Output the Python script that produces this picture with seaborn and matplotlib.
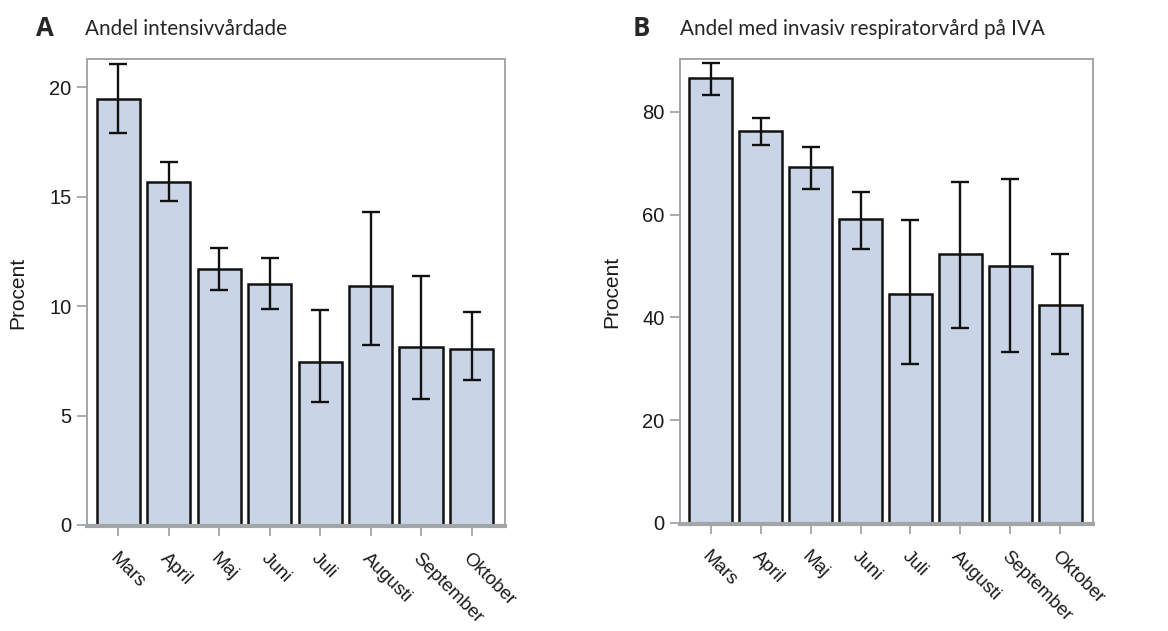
import numpy as np
import pandas as pd
import matplotlib
matplotlib.use("Agg")
import matplotlib.pyplot as plt
import seaborn as sns

months = ["Mars", "April", "Maj", "Juni", "Juli", "Augusti", "September", "Oktober"]

a_vals = [19.47, 15.68, 11.69, 11.02, 7.45, 10.90, 8.14, 8.06]
a_low = [17.91, 14.81, 10.73, 9.89, 5.61, 8.22, 5.76, 6.64]
a_high = [21.08, 16.58, 12.67, 12.22, 9.82, 14.31, 11.40, 9.74]

b_vals = [86.6, 76.2, 69.3, 59.1, 44.6, 52.3, 50.1, 42.4]
b_low = [83.2, 73.5, 65.0, 53.4, 30.9, 37.9, 33.2, 32.9]
b_high = [89.5, 78.8, 73.2, 64.4, 58.9, 66.3, 66.9, 52.3]

sns.set_theme(style="white")
fam = ["Liberation Sans", "DejaVu Sans"]
plt.rcParams["font.family"] = fam

W, H = 1168, 631
fig = plt.figure(figsize=(W / 100, H / 100), dpi=100)

def ax_rect(l, r, t, b):
    return [l / W, 1 - b / H, (r - l) / W, (b - t) / H]

ax1 = fig.add_axes(ax_rect(87, 505, 59, 526))
ax2 = fig.add_axes(ax_rect(680, 1093, 59, 524))

bar_col = "#c9d5e6"
frame_col = "#a3a6a9"
txt_col = "#1a1a1a"

def draw(ax, vals, low, high, ylim, yticks, letter, title, lx, tx):
    df = pd.DataFrame({"month": months, "value": vals})
    sns.barplot(data=df, x="month", y="value", order=months, color=bar_col,
                saturation=1, edgecolor="#111111", linewidth=1.8, width=0.86,
                errorbar=None, ax=ax)
    xs = np.arange(len(months))
    v = np.array(vals)
    yerr = [v - np.array(low), np.array(high) - v]
    ax.errorbar(xs, v, yerr=yerr, fmt="none", ecolor="#111111", elinewidth=1.7,
                capsize=6.2, capthick=1.7, zorder=5)
    ax.set_xlim(-0.62, 7.66)
    ax.set_ylim(*ylim)
    ax.set_yticks(yticks)
    ax.set_yticklabels([str(t) for t in yticks], fontsize=14.5, color=txt_col,
                       family=fam)
    ax.set_xticks(xs)
    ax.set_xticklabels(months, rotation=-45, ha="left", va="top",
                       rotation_mode="anchor", fontsize=13.5, color=txt_col,
                       family=fam)
    ax.set_xlabel("")
    ax.set_ylabel("Procent", fontsize=15, color=txt_col, family=fam)
    ax.yaxis.set_label_coords(-0.143, 0.5)
    for s in ["top", "right", "left"]:
        ax.spines[s].set_color(frame_col)
        ax.spines[s].set_linewidth(1.4)
    ax.spines["bottom"].set_color(frame_col)
    ax.spines["bottom"].set_linewidth(3)
    ax.tick_params(axis="both", which="major", direction="out", length=7,
                   width=1.3, color=frame_col, bottom=True, left=True)
    ax.tick_params(axis="x", pad=10)
    ax.tick_params(axis="y", pad=4)
    fig.text(lx / W, 1 - 28 / H, letter, fontsize=18.5, fontweight="bold",
             family=["Open Sans", "DejaVu Sans"], va="center", ha="left")
    fig.text(tx / W, 1 - 29 / H, title, fontsize=14.9,
             family=["Lato", "DejaVu Sans"], va="center", ha="left")

draw(ax1, a_vals, a_low, a_high, (-0.05, 21.3), [0, 5, 10, 15, 20],
     "A", "Andel intensivvårdade", 36, 85)
draw(ax2, b_vals, b_low, b_high, (-0.2, 90.3), [0, 20, 40, 60, 80],
     "B", "Andel med invasiv respiratorvård på IVA", 633, 680)

fig.savefig("out.png", dpi=100, facecolor="white")
